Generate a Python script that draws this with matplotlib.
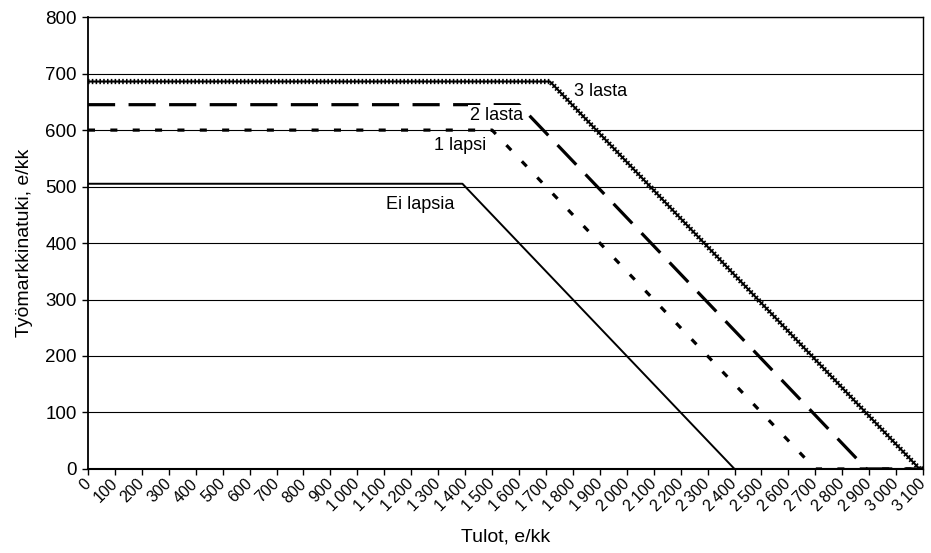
import matplotlib
matplotlib.use("Agg")
import matplotlib.pyplot as plt
from matplotlib.ticker import FuncFormatter, MultipleLocator

# income (e/kk) breakpoints and benefit (e/kk) for each family type
x_ei_lapsia = [0, 1390, 2400, 3100]
y_ei_lapsia = [505, 505, 0, 0]
x_1_lapsi = [0, 1500, 2700, 3100]
y_1_lapsi = [600, 600, 0, 0]
x_2_lasta = [0, 1600, 2890, 3100]
y_2_lasta = [645, 645, 0, 0]
x_3_lasta = [0, 1715, 3087, 3100]
y_3_lasta = [686, 686, 0, 0]

labels = ["Ei lapsia", "1 lapsi", "2 lasta", "3 lasta"]
label_x = [1107, 1285, 1417, 1805]
label_y = [468, 572, 625, 668]

X_MAX = 3100
Y_MAX = 800

plt.rcParams["font.family"] = ["Liberation Sans", "DejaVu Sans"]


def thousands(v, pos):
    return f"{int(v):,}".replace(",", "\u2009")


def main():
    fig = plt.figure(figsize=(9.31, 5.53), dpi=100)
    ax = fig.add_axes([0.0945, 0.152, 0.897, 0.817])

    for yv in range(100, Y_MAX + 1, 100):
        ax.axhline(yv, color="black", linewidth=0.8, zorder=1)

    ax.plot(x_ei_lapsia, y_ei_lapsia, color="black", linewidth=1.4, zorder=3)
    ax.plot(x_1_lapsi, y_1_lapsi, color="black", linewidth=2.3,
            linestyle=(0, (2.2, 4.8)), dash_capstyle="butt", zorder=3)
    ax.plot(x_2_lasta, y_2_lasta, color="black", linewidth=2.3,
            linestyle=(0, (8.5, 4.2)), dash_capstyle="butt", zorder=3)
    # 3 lasta: thin solid core plus dense perpendicular ticks
    ax.plot(x_3_lasta, y_3_lasta, color="black", linewidth=1.5, zorder=3)
    ax.plot(x_3_lasta, y_3_lasta, color="black", linewidth=3.8,
            linestyle=(0, (0.3, 0.42)), dash_capstyle="butt", zorder=3)

    for txt, lx, ly in zip(labels, label_x, label_y):
        ax.text(lx, ly, txt, fontsize=13, ha="left", va="center", zorder=4,
                bbox=dict(facecolor="white", edgecolor="none", pad=1.5))

    ax.set_xlim(0, X_MAX)
    ax.set_ylim(0, Y_MAX)
    ax.xaxis.set_major_locator(MultipleLocator(100))
    ax.yaxis.set_major_locator(MultipleLocator(100))
    ax.xaxis.set_major_formatter(FuncFormatter(thousands))
    ax.tick_params(axis="both", direction="out", length=4, width=1, colors="black")
    ax.tick_params(axis="y", labelsize=13.5, pad=4)
    ax.tick_params(axis="x", labelsize=11.5, pad=5)
    for lab in ax.get_xticklabels():
        lab.set_rotation(45)
        lab.set_ha("right")
        lab.set_va("center")
        lab.set_rotation_mode("anchor")

    for sp in ax.spines.values():
        sp.set_color("black")
        sp.set_linewidth(1)
    ax.spines["bottom"].set_linewidth(1.5)
    ax.spines["left"].set_linewidth(1.3)

    ax.set_xlabel("Tulot, e/kk", fontsize=14, labelpad=10)
    ax.set_ylabel("Työmarkkinatuki, e/kk", fontsize=14, labelpad=9)

    fig.savefig("out.png", facecolor="white")
    plt.close(fig)


if __name__ == "__main__":
    main()
